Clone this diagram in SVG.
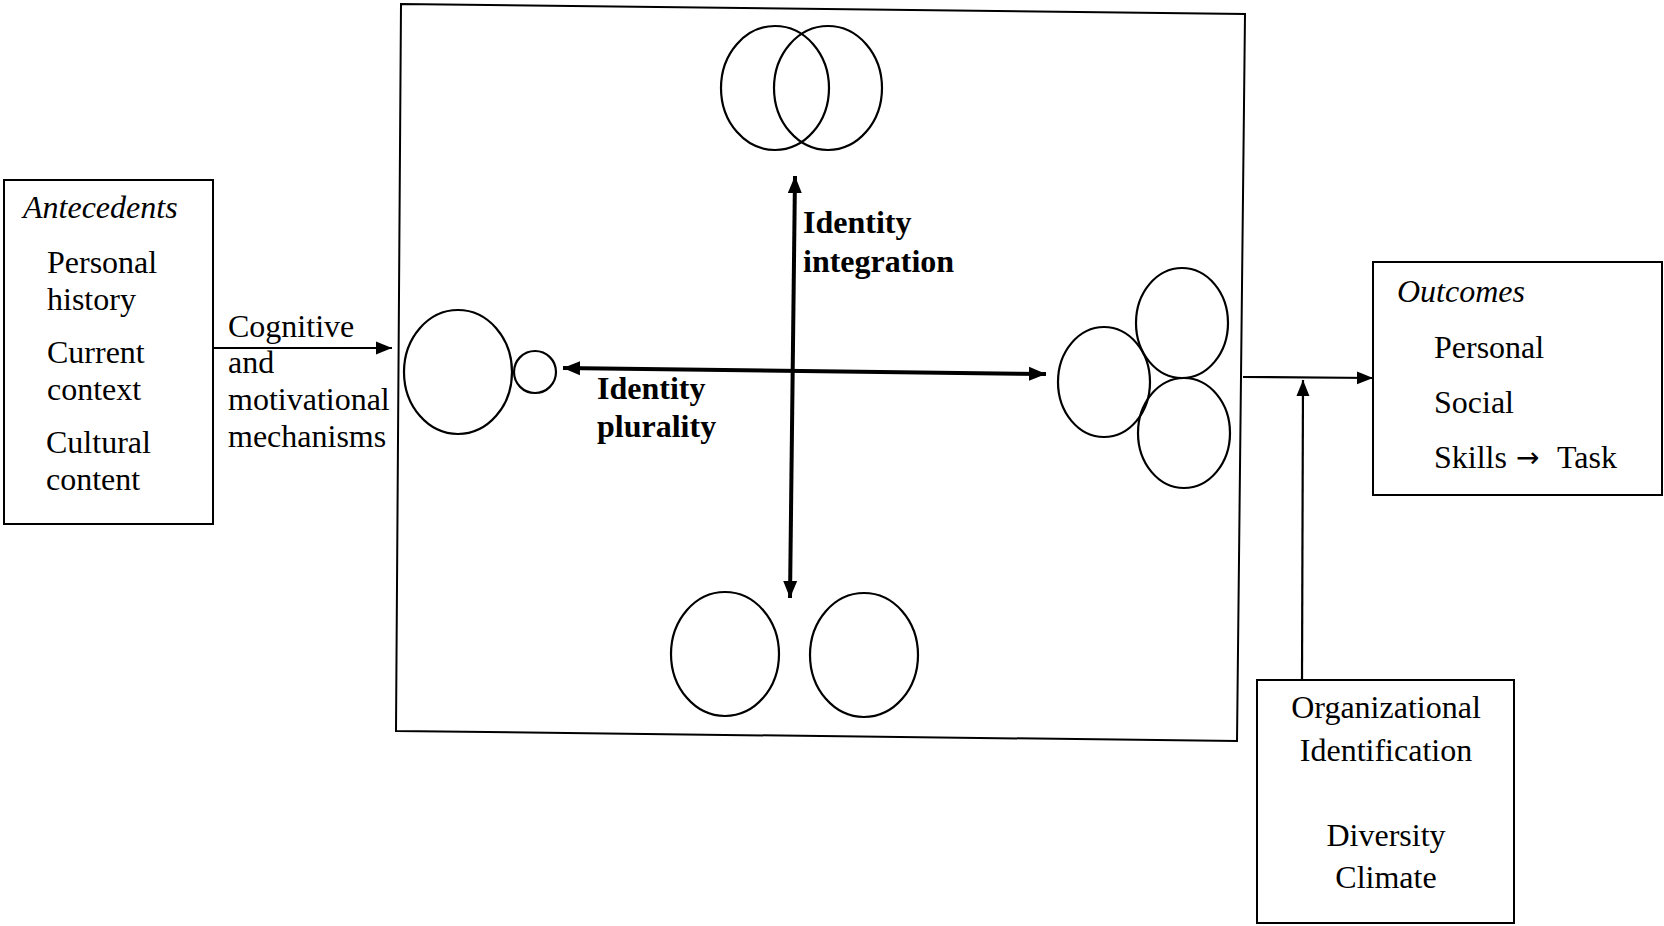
<svg xmlns="http://www.w3.org/2000/svg" width="1664" height="926" viewBox="0 0 1664 926">
<style>
text{font-family:"Liberation Serif","Times New Roman",serif;font-size:32px;fill:#000}
.it{font-style:italic}
.b{font-weight:bold}
.arr{font-family:"DejaVu Sans",sans-serif;font-size:28px}
.box{fill:none;stroke:#000;stroke-width:2}
.ell{fill:none;stroke:#000;stroke-width:2.2}
.thick{stroke:#000;stroke-width:4;fill:none}
.thin{stroke:#000;stroke-width:2.2;fill:none}
</style>
<defs>
<marker id="ahT" markerUnits="userSpaceOnUse" markerWidth="18" markerHeight="16" refX="17" refY="8" orient="auto-start-reverse" viewBox="0 0 18 16">
<path d="M0,1 L17,8 L0,15 z" fill="#000"/>
</marker>
<marker id="ah" markerUnits="userSpaceOnUse" markerWidth="16" markerHeight="14" refX="16" refY="7" orient="auto" viewBox="0 0 16 14">
<path d="M0,0.5 L16,7 L0,13.5 z" fill="#000"/>
</marker>
</defs>
<rect width="1664" height="926" fill="#fff"/>

<g id="antecedents">
<rect class="box" x="4" y="180" width="209" height="344"/>
<text class="it" x="23" y="218">Antecedents</text>
<text x="47" y="273">Personal</text>
<text x="47" y="310">history</text>
<text x="47" y="363">Current</text>
<text x="47" y="400">context</text>
<text x="46" y="453">Cultural</text>
<text x="46" y="490">content</text>
</g>

<g id="mechanisms-label">
<text x="228" y="337">Cognitive</text>
<text x="228" y="373">and</text>
<text x="228" y="410">motivational</text>
<text x="228" y="447">mechanisms</text>
</g>

<g id="identity-space">
<path class="box" d="M401,4 L1245,14 L1237,741 L396,731 Z"/>
<text class="b" x="803" y="233">Identity</text>
<text class="b" x="803" y="272">integration</text>
<text class="b" x="597" y="399">Identity</text>
<text class="b" x="597" y="437">plurality</text>
</g>

<g id="integrated-circles">
<ellipse class="ell" cx="775" cy="88" rx="54" ry="62"/>
<ellipse class="ell" cx="828" cy="88" rx="54" ry="62"/>
</g>

<g id="separated-circles">
<ellipse class="ell" cx="725" cy="654" rx="54" ry="62"/>
<ellipse class="ell" cx="864" cy="655" rx="54" ry="62"/>
</g>

<g id="low-plurality-circles">
<ellipse class="ell" cx="458" cy="372" rx="54" ry="62"/>
<circle class="ell" cx="535" cy="372" r="21"/>
</g>

<g id="high-plurality-circles">
<ellipse class="ell" cx="1104" cy="382" rx="46" ry="55"/>
<ellipse class="ell" cx="1182" cy="323" rx="46" ry="55"/>
<ellipse class="ell" cx="1184" cy="433" rx="46" ry="55"/>
</g>

<g id="outcomes">
<rect class="box" x="1373" y="262" width="289" height="233"/>
<text class="it" x="1397" y="302">Outcomes</text>
<text x="1434" y="358">Personal</text>
<text x="1434" y="413">Social</text>
<text x="1434" y="468">Skills</text>
<text class="arr" x="1516" y="467">→</text>
<text x="1557" y="468">Task</text>
</g>

<g id="moderators">
<rect class="box" x="1257" y="680" width="257" height="243"/>
<text x="1386" y="718" text-anchor="middle">Organizational</text>
<text x="1386" y="761" text-anchor="middle">Identification</text>
<text x="1386" y="846" text-anchor="middle">Diversity</text>
<text x="1386" y="888" text-anchor="middle">Climate</text>
</g>

<g id="connectors">
<line class="thin" x1="213" y1="348" x2="392" y2="348" marker-end="url(#ah)"/>
<line class="thick" x1="563" y1="368" x2="1046" y2="374" marker-start="url(#ahT)" marker-end="url(#ahT)"/>
<line class="thick" x1="795" y1="176" x2="790" y2="598" marker-start="url(#ahT)" marker-end="url(#ahT)"/>
<line class="thin" x1="1243" y1="377" x2="1373" y2="378" marker-end="url(#ah)"/>
<line class="thin" x1="1302" y1="680" x2="1303" y2="380" marker-end="url(#ah)"/>
</g>
</svg>
